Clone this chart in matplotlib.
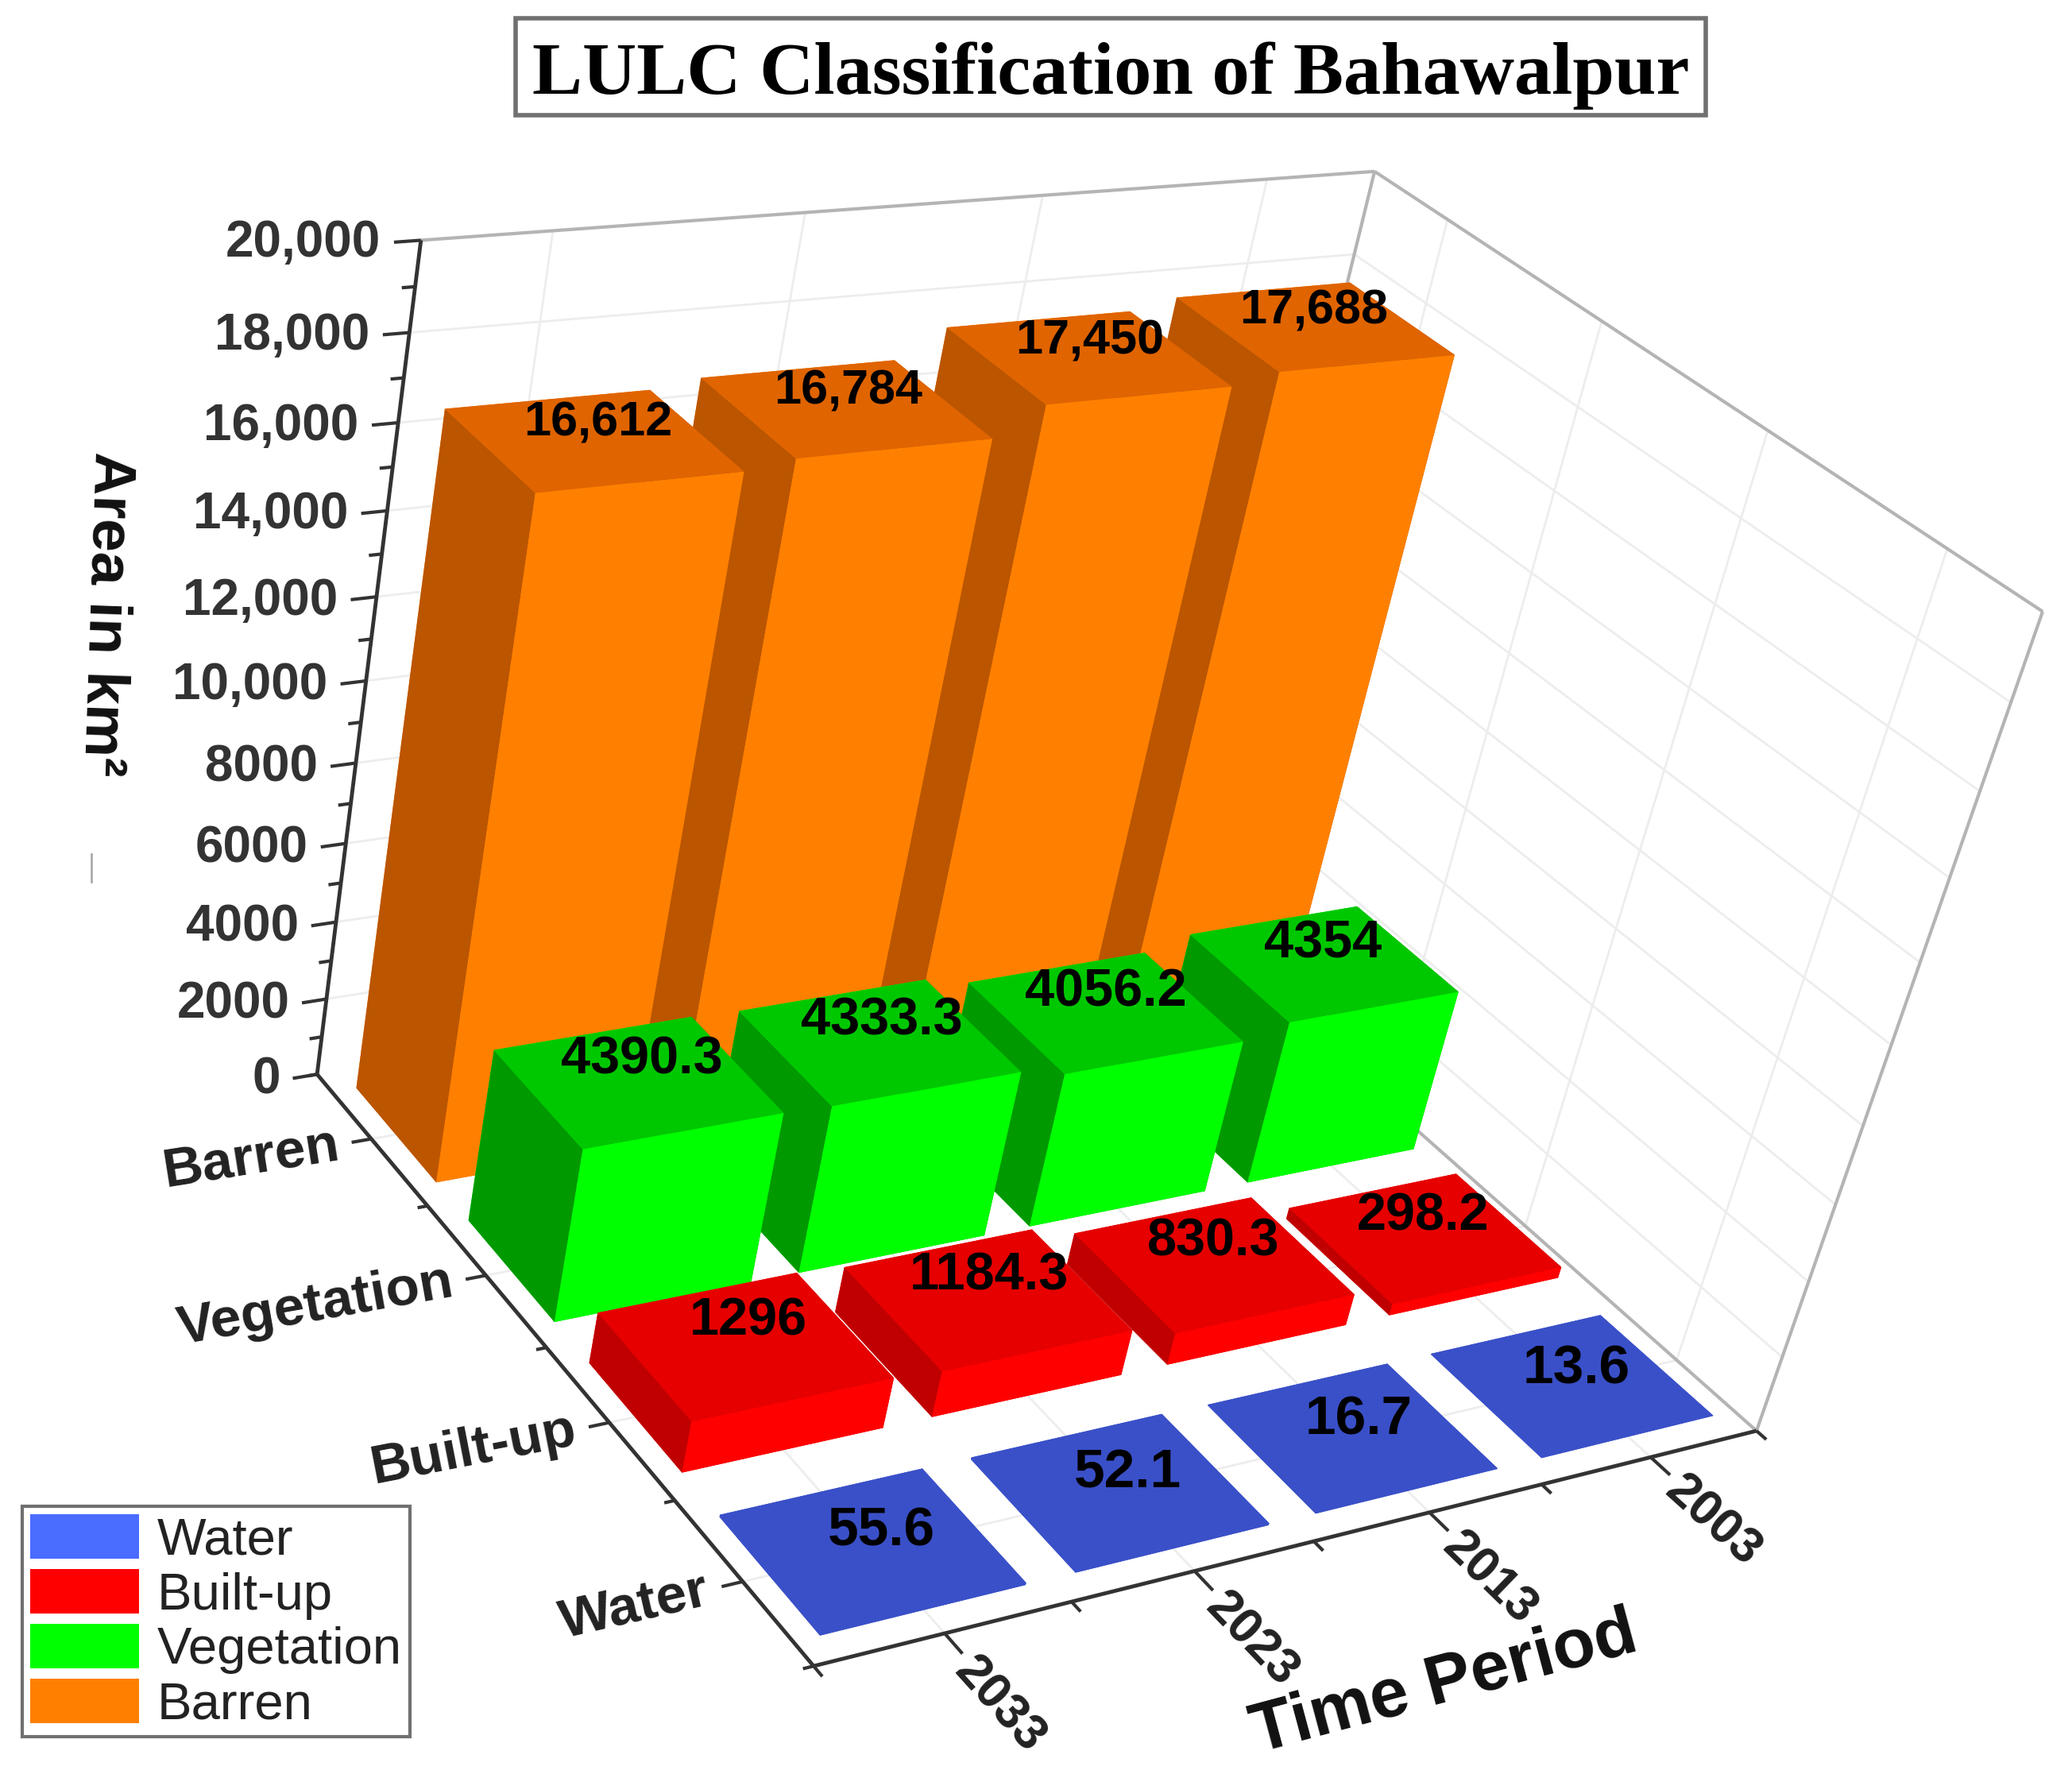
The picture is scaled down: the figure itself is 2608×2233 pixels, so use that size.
import numpy as np
import matplotlib
matplotlib.use('Agg')
import matplotlib.pyplot as plt
from matplotlib.lines import Line2D
from matplotlib.patches import Patch, Rectangle

plt.rcParams['font.family'] = ['Liberation Sans', 'DejaVu Sans']

W, H = 2608, 2233

years = ['2033', '2023', '2013', '2003']
classes = ['Water', 'Built-up', 'Vegetation', 'Barren']
water = [55.6, 52.1, 16.7, 13.6]
builtup = [1296, 1184.3, 830.3, 298.2]
vegetation = [4390.3, 4333.3, 4056.2, 4354]
barren = [16612, 16784, 17450, 17688]
series = [water, builtup, vegetation, barren]
z_ticks = list(range(0, 20001, 2000))
z_labels = ['0', '2000', '4000', '6000', '8000', '10,000', '12,000', '14,000', '16,000', '18,000', '20,000']

# top, front and side shade of each class
top_cols = ['#3A50C8', '#E60000', '#00C800', '#E06400']
front_cols = ['#3A50C8', '#FF0000', '#00FF00', '#FF8000']
side_cols = ['#3A50C8', '#C00000', '#009A00', '#BB5500']
legend_cols = ['#4A6CFF', '#FF0000', '#00FF00', '#FF8000']
label_sizes = [50, 48, 48, 44]

fig = plt.figure(figsize=(W/100, H/100), dpi=100, facecolor='white')
ax = fig.add_axes([0, 0, 1, 1], projection='3d')
ax.set_axis_off()
ax.computed_zorder = False
ax.apply_aspect = lambda position=None: None

# box corners (x, y, z) and where they sit in the picture, camera is fitted from them
box_pts = np.array([[0, 0, 0], [4, 0, 0], [0, 4, 0], [4, 4, 0],
                    [0, 4, 1], [4, 4, 1], [4, 0, 1]], dtype=float)
pix_pts = np.array([[1024, 2098], [2211, 1800], [399, 1351], [1497, 1170],
                    [530, 303], [1730, 215], [2571, 770]], dtype=float)

rows = []
for (x, y, z), (u, v) in zip(box_pts, pix_pts):
    u, v = u/W, v/H
    rows.append([x, y, z, 1, 0, 0, 0, 0, -u*x, -u*y, -u*z, -u])
    rows.append([0, 0, 0, 0, x, y, z, 1, -v*x, -v*y, -v*z, -v])
P = np.linalg.svd(np.array(rows))[2][-1].reshape(3, 4)
if P[2] @ [2, 2, 0.5, 1] < 0:
    P = -P
P = P/np.abs(P[2]).max()
P = P @ np.diag([1, 1, 1/20000, 1])

x0, x1 = ax.viewLim.intervalx
y0, y1 = ax.viewLim.intervaly
M = np.array([x0*P[2] + (x1 - x0)*P[0],
              y1*P[2] - (y1 - y0)*P[1],
              [0, 0, 0, -1],
              P[2]])
ax.get_proj = lambda: M


def seg(p, q, col, lw, zo=1):
    ax.plot([p[0], q[0]], [p[1], q[1]], [p[2], q[2]], color=col, lw=lw, zorder=zo,
            solid_capstyle='butt')


def label3d(x, y, z, s, **kw):
    # text stays flat on the page, only its anchor comes from the data
    u, v, w = P @ [x, y, z, 1]
    ax.text2D(u/w, 1 - v/w, s, transform=fig.transFigure, zorder=100, **kw)


# faint grid
grid = '#EDEDED'
for i in range(4):
    c = i + 0.5
    seg((c, 4, 0), (c, 4, 20000), grid, 2)
    seg((4, c, 0), (4, c, 20000), grid, 2)
    seg((c, 0, 0), (c, 4, 0), grid, 2)
    seg((0, c, 0), (4, c, 0), grid, 2)
for z in z_ticks[1:-1]:
    seg((0, 4, z), (4, 4, z), grid, 2)
    seg((4, 0, z), (4, 4, z), grid, 2)

# wall borders
border = '#B4B4B4'
seg((0, 4, 20000), (4, 4, 20000), border, 3)
seg((4, 4, 20000), (4, 0, 20000), border, 3)
seg((4, 4, 0), (4, 4, 20000), border, 3)
seg((4, 0, 0), (4, 0, 20000), border, 3)
seg((4, 0, 0), (4, 4, 0), border, 3)

# bars, back row first and right to left
bar_w = 0.8
bar_d = 0.72
zo = 5
for j in range(3, -1, -1):
    for i in range(3, -1, -1):
        cols = [top_cols[j], top_cols[j], front_cols[j], front_cols[j], side_cols[j], side_cols[j]]
        ax.bar3d(i + (1 - bar_w)/2, j + (1 - bar_d)/2, 0, bar_w, bar_d, series[j][i],
                 color=cols, shade=False, edgecolor='none', zorder=zo)
        zo += 1

# value labels on the bar tops
label_y = [0.58, 0.63, 0.63, 0.63]
for j in range(4):
    for i in range(4):
        v = series[j][i]
        s = f'{v:,}' if j == 3 else f'{v:g}'
        label3d(i + 0.58, j + label_y[j], v, s, fontsize=label_sizes[j], fontweight='bold', color='black',
                ha='center', va='center')

# axes
axc = '#333333'
seg((0, 0, 0), (4, 0, 0), axc, 3.5, 50)
seg((0, 0, 0), (0, 4, 0), axc, 3.5, 50)
seg((0, 4, 0), (0, 4, 20000), axc, 3.5, 50)

year_rot = [-48, -46, -44, -42]
for i in range(5):
    seg((i, 0, 0), (i, -0.06, 0), axc, 3, 50)
    seg((0, i, 0), (-0.04, i, 0), axc, 3, 50)
for i in range(4):
    seg((i + 0.5, 0, 0), (i + 0.5, -0.12, 0), axc, 3, 50)
    seg((0, i + 0.5, 0), (-0.08, i + 0.5, 0), axc, 3, 50)
    label3d(i + 0.47, -0.17, 0, years[i], fontsize=45, fontweight='bold', color='#222222',
            rotation=year_rot[i], rotation_mode='anchor', ha='left', va='center')

y_rot = [13, 11, 10, 9]
for j in range(4):
    label3d(-0.13, j + 0.5, 0, classes[j], fontsize=50, fontweight='bold', color='#222222',
            rotation=y_rot[j], rotation_mode='anchor', ha='right', va='center')

for k, z in enumerate(z_ticks):
    seg((0, 4, z), (-0.1, 4, z), axc, 3, 50)
    if z < 20000:
        seg((0, 4, z + 1000), (-0.05, 4, z + 1000), axc, 3, 50)
    label3d(-0.15, 4, z, z_labels[k], fontsize=46, fontweight='bold', color='#333333',
            ha='right', va='center')

# axis titles
fig.text(133/W, 1 - 773/H, 'Area in km\u00b2', fontsize=54, fontweight='bold', color='#111111',
         rotation=-92, ha='center', va='center')
fig.text(1818/W, 1 - 2120/H, 'Time Period', fontsize=63, fontweight='bold', color='#111111',
         rotation=15, ha='center', va='center')
fig.add_artist(Line2D([115/W, 115/W], [1 - 1075/H, 1 - 1110/H], transform=fig.transFigure,
                      color='#AAAAAA', lw=2))

# title box
fig.add_artist(Rectangle((649/W, 1 - 145/H), 1498/W, 122/H, transform=fig.transFigure,
                         facecolor='white', edgecolor='#707070', lw=4))
fig.text(1398/W, 1 - 95/H, 'LULC Classification of Bahawalpur', fontsize=68, fontweight='bold',
         family='Liberation Serif', color='black', ha='center', va='center')

# legend
handles = [Patch(facecolor=c, edgecolor='none') for c in legend_cols]
leg = fig.legend(handles, classes, loc='lower left', bbox_to_anchor=(28/W, 1 - 2186/H),
                 borderaxespad=0, fontsize=47, frameon=True, fancybox=False, edgecolor='#707070',
                 facecolor='white', framealpha=1, handlelength=2.1, handleheight=0.95,
                 labelspacing=0.08, handletextpad=0.35, borderpad=0.15, labelcolor='#222222')
leg.get_frame().set_linewidth(3)

fig.savefig('out.png', dpi=100)
